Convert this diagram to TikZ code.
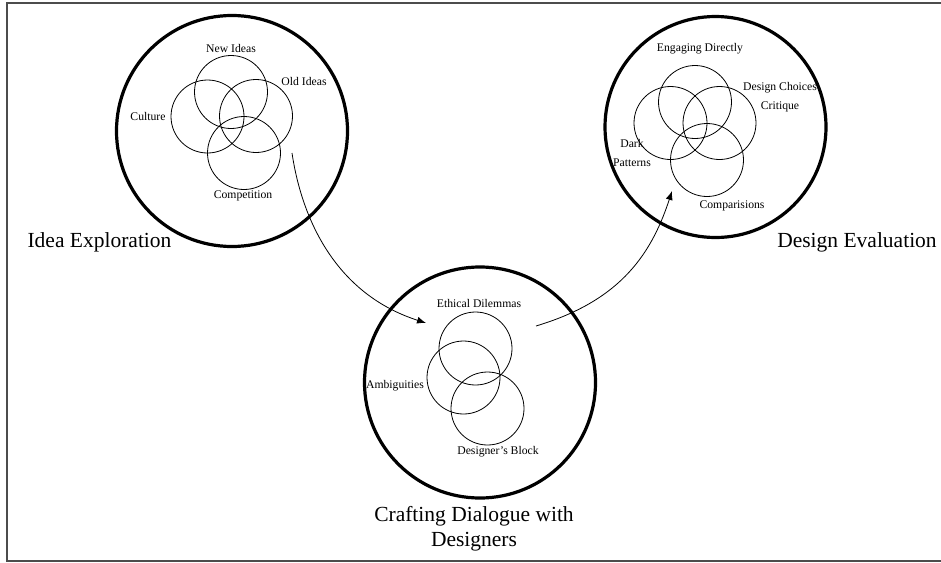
\documentclass[tikz,border=0pt]{standalone}
\usepackage{fontspec}
\setmainfont{Liberation Serif}
\usetikzlibrary{arrows.meta}
\begin{document}
\begin{tikzpicture}[x=1pt,y=-1pt]
  \useasboundingbox (0,0) rectangle (941,562);
  \draw[line width=1.5pt,black!70] (941,3) -- (7,3) -- (7,561) -- (941,561);
  % big rings
  \begin{scope}[shape=circle]
    \tikzstyle{every node}=[draw,line width=3.2pt,inner sep=0pt]
    \node[minimum size=231pt] (IE) at (232,131) {};
    \node[minimum size=221pt] (DE) at (715.5,127) {};
    \node[minimum size=231pt] (CD) at (480,382.5) {};
  \end{scope}
  % small rings
  \begin{scope}[shape=circle]
    \tikzstyle{every node}=[draw,line width=0.8pt,minimum size=73pt,inner sep=0pt]
    \node (new) at (231,92) {};
    \node (cul) at (207.5,116.5) {};
    \node (old) at (256,116) {};
    \node (com) at (244,153) {};
    \node (eng) at (695,102) {};
    \node (dark) at (670.5,123) {};
    \node (crit) at (719.5,123) {};
    \node (comp) at (707,160) {};
    \node (eth) at (475.5,348.5) {};
    \node (amb) at (463.5,377.5) {};
    \node (blk) at (487.5,408.5) {};
  \end{scope}
  \begin{scope}
    \tikzstyle{every node}=[font=\fontsize{11.7}{19}\selectfont,align=center,inner sep=0pt]
    \node (lnew) at (231,48) {New Ideas};
    \node (lold) at (304,81) {Old Ideas};
    \node (lcul) at (148,116) {Culture};
    \node (lcom) at (243,196) {Competition};
    \node (leng) at (700,49) {Engaging Directly};
    \node (lcrit) at (780,97) {Design Choices\\Critique};
    \node (ldark) at (632,152.5) {Dark\\Patterns};
    \node (lcomp) at (732,206) {Comparisions};
    \node (leth) at (479,303) {Ethical Dilemmas};
    \node (lamb) at (395,386) {Ambiguities};
    \node (lblk) at (498,452) {Designer's Block};
  \end{scope}
  \begin{scope}
    \tikzstyle{every node}=[font=\fontsize{21.5}{25}\selectfont,align=center,inner sep=0pt]
    \node (tIE) at (99.5,242) {Idea Exploration};
    \node (tDE) at (857,242) {Design Evaluation};
    \node (tCD) at (474,529) {Crafting Dialogue with\\Designers};
  \end{scope}
  \coordinate (a1) at (292,153);
  \coordinate (a2) at (426,323);
  \coordinate (b1) at (536,326);
  \coordinate (b2) at (672,191);
  \draw[-{Latex[length=9pt,width=7pt]},line width=0.8pt] (a1) .. controls (302,220) and (336,294) .. (a2);
  \draw[-{Latex[length=9pt,width=7pt]},line width=0.8pt] (b1) .. controls (616,302) and (650,259) .. (b2);
\end{tikzpicture}
\end{document}
